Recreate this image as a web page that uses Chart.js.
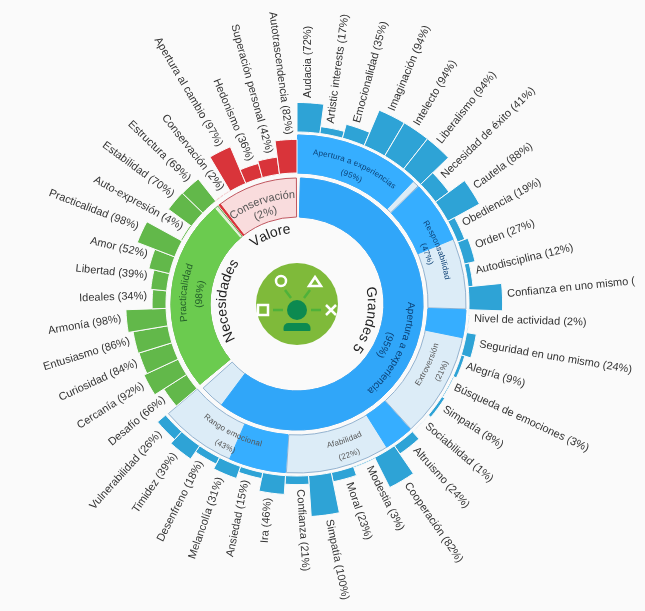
<!DOCTYPE html>
<html>
<head>
<meta charset="utf-8">
<title>Sunburst</title>
<script src="https://cdn.jsdelivr.net/npm/chart.js@4/dist/chart.umd.js"></script>
<style>
    html, body { margin: 0; padding: 0; background: #fafafa; }
    #box { width: 645px; height: 611px; overflow: hidden; }
</style>
</head>
<body>
<div id="box"><canvas id="sunburst" width="645" height="611"></canvas></div>
<script>
// leaves, clockwise from the top
const leafNames = [
    'Audacia', 'Artistic interests', 'Emocionalidad', 'Imaginación', 'Intelecto', 'Liberalismo',
    'Necesidad de éxito', 'Cautela', 'Obediencia', 'Orden', 'Autodisciplina', 'Confianza en uno mismo',
    'Nivel de actividad', 'Seguridad en uno mismo', 'Alegría', 'Búsqueda de emociones', 'Simpatía', 'Sociabilidad',
    'Altruismo', 'Cooperación', 'Modestia', 'Moral', 'Simpatía', 'Confianza',
    'Ira', 'Ansiedad', 'Melancolía', 'Desenfreno', 'Timidez', 'Vulnerabilidad',
    'Desafío', 'Cercanía', 'Curiosidad', 'Entusiasmo', 'Armonía', 'Ideales',
    'Libertad', 'Amor', 'Practicalidad', 'Auto-expresión', 'Estabilidad', 'Estructura',
    'Conservación', 'Apertura al cambio', 'Hedonismo', 'Superación personal', 'Autotrascendencia'
];
const leafValues = [
    72, 17, 35, 94, 94, 94,
    41, 88, 19, 27, 12, 82,
    2, 24, 9, 3, 8, 1,
    24, 82, 3, 23, 100, 21,
    46, 15, 31, 18, 39, 26,
    66, 92, 84, 86, 98, 34,
    39, 52, 98, 4, 70, 69,
    2, 97, 36, 42, 82
];

const traitNames = ['Apertura a experiencias', 'Responsabilidad', 'Extroversión', 'Afabilidad', 'Rango emocional'];
const traitValues = [95, 47, 21, 22, 43];
const traitLeafCounts = [6, 6, 6, 6, 6];

const groupNames = ['Apertura a experiencia', 'Practicalidad', 'Conservación'];
const groupValues = [95, 98, 2];
const groupLeafCounts = [30, 12, 5];

const modelNames = ['Grandes 5', 'Necesidades', 'Valore'];

const BG = '#fafafa';
const leafStep = 360 / leafValues.length;
const PX_PER_PERCENT = 0.41;

function leafColor(i) {
    if (i < groupLeafCounts[0]) return '#2ea3d6';
    if (i < groupLeafCounts[0] + groupLeafCounts[1]) return '#62b84a';
    return '#d9343a';
}

// fill + remainder pairs, the remainder only keeps the angles in step
function pairs(values) {
    const out = [];
    values.forEach(v => out.push(v, 100 - v));
    return out;
}

class SunburstController extends Chart.PolarAreaController {
    updateElement(arc, index, props, mode) {
        const ds = this.getDataset();
        const half = (props.options && props.options.spacing || 0) / 2;
        const inner = typeof ds.inner === 'function' ? ds.inner(index) : ds.inner;
        const outer = ds.thickness ? inner + ds.thickness : inner + props.outerRadius;
        props.innerRadius = inner - half;
        props.outerRadius = outer - half;
        super.updateElement(arc, index, props, mode);
    }
}
SunburstController.id = 'sunburst';
SunburstController.defaults = Chart.PolarAreaController.defaults;
SunburstController.overrides = Chart.PolarAreaController.overrides;
Chart.register(SunburstController);

function arcText(ctx, text, cx, cy, r, mid, flip, extra) {
    const chars = Array.from(text);
    const widths = chars.map(c => ctx.measureText(c).width + extra);
    const total = widths.reduce((a, b) => a + b, 0);
    const dir = flip ? -1 : 1;
    let pos = -total / 2;
    chars.forEach((c, i) => {
        const t = mid + dir * (pos + widths[i] / 2) / r;
        ctx.save();
        ctx.translate(cx + r * Math.cos(t), cy + r * Math.sin(t));
        ctx.rotate(t + dir * Math.PI / 2);
        ctx.fillText(c, 0, 0);
        ctx.restore();
        pos += widths[i];
    });
}

function midAngles(counts) {
    let start = 0;
    return counts.map(n => {
        const mid = start + n * leafStep / 2;
        start += n * leafStep;
        return (mid - 90) * Math.PI / 180;
    });
}

const labelsPlugin = {
    id: 'sunburstLabels',
    afterDatasetsDraw(chart) {
        const ctx = chart.ctx;
        const scale = chart.scales.r;
        const cx = scale.xCenter, cy = scale.yCenter;

        // leaf labels
        ctx.save();
        ctx.font = '11px "Liberation Sans"';
        ctx.fillStyle = '#333';
        ctx.textBaseline = 'alphabetic';
        chart.getDatasetMeta(0).data.forEach((arc, i) => {
            const t = (arc.startAngle + arc.endAngle) / 2;
            const r = arc.outerRadius + 5;
            const right = (i + 0.5) * leafStep <= 180;
            let text = leafNames[i] + ' (' + leafValues[i] + '%)';
            if (leafNames[i] === 'Confianza en uno mismo') text = 'Confianza en uno mismo (';
            ctx.save();
            ctx.translate(cx + r * Math.cos(t), cy + r * Math.sin(t));
            ctx.rotate(right ? arc.startAngle : arc.startAngle + Math.PI);
            ctx.textAlign = right ? 'left' : 'right';
            ctx.fillText(text, 0, 0);
            ctx.restore();
        });
        ctx.restore();

        ctx.save();
        ctx.textAlign = 'center';
        ctx.textBaseline = 'alphabetic';

        // trait ring
        ctx.font = '8px "Liberation Sans"';
        midAngles(traitLeafCounts).forEach((mid, i) => {
            const flip = i >= 2;
            ctx.fillStyle = i < 2 ? '#0b3f73' : '#555';
            arcText(ctx, traitNames[i], cx, cy, flip ? 147 : 150, mid, flip, 0.2);
            arcText(ctx, '(' + traitValues[i] + '%)', cx, cy, flip ? 162 : 137, mid, flip, 0.2);
        });

        // group ring
        midAngles(groupLeafCounts).forEach((mid, i) => {
            ctx.font = i === 2 ? '11px "Liberation Sans"' : '10px "Liberation Sans"';
            ctx.fillStyle = ['#0b3f73', '#24602a', '#555'][i];
            arcText(ctx, groupNames[i], cx, cy, i === 2 ? 106 : 111, mid, false, 0);
            arcText(ctx, '(' + groupValues[i] + '%)', cx, cy, i === 2 ? 93 : 95, mid, false, 0);
        });

        // model names sit a little before the middle of their sector
        ctx.font = '14px "Liberation Sans"';
        ctx.fillStyle = '#222';
        const nudge = [-12, -3, -2];
        midAngles(groupLeafCounts).forEach((mid, i) => {
            arcText(ctx, modelNames[i], cx, cy, 71, mid + nudge[i] * Math.PI / 180, false, 0);
        });
        ctx.restore();

        drawIcon(ctx, cx, cy);
    }
};

function drawIcon(ctx, cx, cy) {
    ctx.save();
    ctx.translate(cx, cy);
    ctx.fillStyle = '#7fba3a';
    ctx.beginPath();
    ctx.arc(0, 0, 41, 0, Math.PI * 2);
    ctx.fill();

    ctx.strokeStyle = '#4fb23a';
    ctx.lineWidth = 2.5;
    [[-24, 6, -14, 6], [14, 6, 24, 6], [-12, -14, -6, -6], [13, -14, 7, -6]].forEach(s => {
        ctx.beginPath();
        ctx.moveTo(s[0], s[1]);
        ctx.lineTo(s[2], s[3]);
        ctx.stroke();
    });

    ctx.fillStyle = '#0c8a50';
    ctx.beginPath();
    ctx.arc(0, 6, 10, 0, Math.PI * 2);
    ctx.fill();
    ctx.beginPath();
    ctx.roundRect(-13.5, 19, 27, 8, [5, 5, 1, 1]);
    ctx.fill();

    ctx.strokeStyle = '#fff';
    ctx.lineWidth = 2.5;
    ctx.beginPath();
    ctx.arc(-16, -23, 5, 0, Math.PI * 2);
    ctx.stroke();
    ctx.beginPath();
    ctx.moveTo(18, -27);
    ctx.lineTo(24, -18);
    ctx.lineTo(12, -18);
    ctx.closePath();
    ctx.stroke();
    ctx.strokeRect(-39, 1, 10, 10);
    ctx.beginPath();
    ctx.moveTo(29, 1);
    ctx.lineTo(39, 11);
    ctx.moveTo(39, 1);
    ctx.lineTo(29, 11);
    ctx.stroke();
    ctx.restore();
}

const traitAngle = (ctx) => ctx.raw / 100 * traitLeafCounts[Math.floor(ctx.dataIndex / 2)] * leafStep;
const groupAngle = (ctx) => ctx.raw / 100 * groupLeafCounts[Math.floor(ctx.dataIndex / 2)] * leafStep;
const groupFill = ['#30a6f9', '#6bcb4f', '#d9343a'];
const groupPale = ['#dcecf7', '#e2f3da', '#f9dcdd'];
const groupEdge = ['#93b2cf', '#62a84c', '#c0565f'];

new Chart(document.getElementById('sunburst'), {
    type: 'sunburst',
    data: {
        labels: leafNames,
        datasets: [
            {
                data: leafValues,
                inner: i => (i < groupLeafCounts[0] ? 172 : 131),
                angle: () => leafStep,
                backgroundColor: leafValues.map((v, i) => leafColor(i)),
                borderColor: BG,
                borderWidth: 1
            },
            {
                data: pairs(traitValues),
                inner: 131,
                thickness: 38,
                angle: traitAngle,
                backgroundColor: (ctx) => (ctx.dataIndex % 2 ? 'transparent' : '#36aeff'),
                borderColor: (ctx) => (ctx.dataIndex % 2 ? 'transparent' : '#36aeff'),
                borderWidth: 1,
                spacing: 3
            },
            {
                data: traitValues.map(() => 100),
                inner: 131,
                thickness: 38,
                angle: (ctx) => traitLeafCounts[ctx.dataIndex] * leafStep,
                backgroundColor: '#dcecf7',
                borderColor: '#93b2cf',
                borderWidth: 1,
                spacing: 3
            },
            {
                data: pairs(groupValues),
                inner: 87,
                thickness: 39,
                angle: groupAngle,
                backgroundColor: (ctx) => (ctx.dataIndex % 2 ? 'transparent' : groupFill[ctx.dataIndex / 2]),
                borderColor: (ctx) => (ctx.dataIndex % 2 ? 'transparent' : groupFill[ctx.dataIndex / 2]),
                borderWidth: 1,
                spacing: 3
            },
            {
                data: groupValues.map(() => 100),
                inner: 87,
                thickness: 39,
                angle: (ctx) => groupLeafCounts[ctx.dataIndex] * leafStep,
                backgroundColor: groupPale,
                borderColor: groupEdge,
                borderWidth: 1,
                spacing: 3
            }
        ]
    },
    options: {
        responsive: false,
        animation: false,
        events: [],
        layout: { padding: { left: 0, top: 0, right: 50, bottom: 3 } },
        scales: {
            r: {
                display: false,
                min: 0,
                max: 297 / PX_PER_PERCENT
            }
        },
        plugins: {
            legend: { display: false },
            tooltip: { enabled: false }
        }
    },
    plugins: [labelsPlugin]
});
</script>
</body>
</html>
